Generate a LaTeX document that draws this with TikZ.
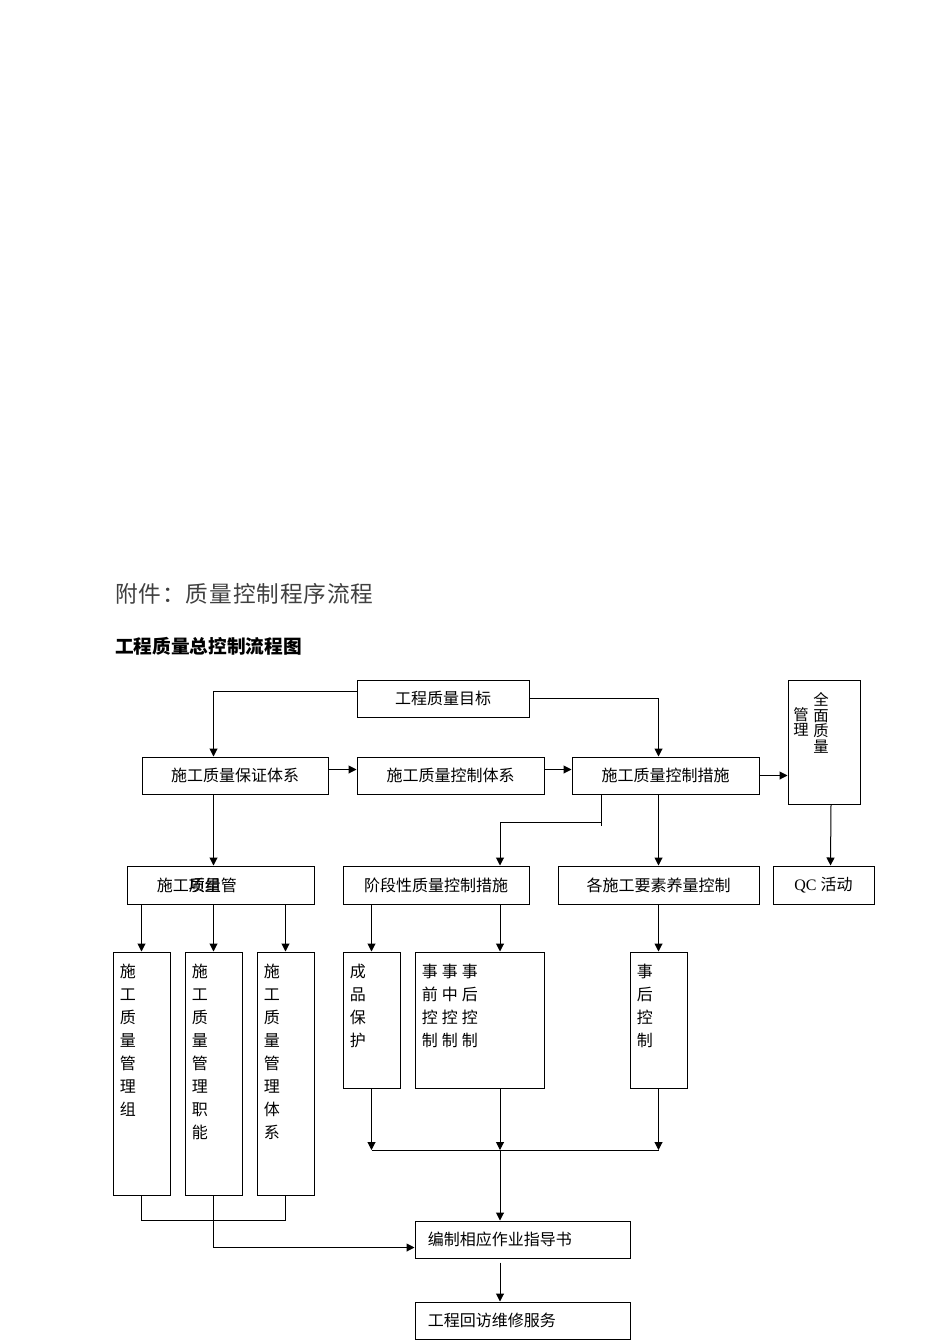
\documentclass[tikz,border=0pt]{standalone}
\usepackage{fontspec}
\setmainfont{Liberation Serif}
\newfontfamily\cjk{Noto Sans CJK SC}
\newfontfamily\cjktitle{Noto Sans CJK SC}[LetterSpace=4]
\usetikzlibrary{arrows.meta}

\begin{document}
\begin{tikzpicture}[x=0.75pt,y=-0.75pt,
  every node/.style={font=\cjk\fontsize{12}{17.25}\selectfont, inner sep=0pt},
  box/.style 2 args={draw, line width=0.75pt, minimum width=#1*0.75pt, minimum height=#2*0.75pt},
  vtxt/.style={anchor=north west, align=left},
  line/.style={line width=0.75pt},
  arr/.style={line width=0.75pt, -{Triangle[length=6pt,width=6pt]}}]
  \useasboundingbox (0,0) rectangle (950,1344);

  % Titel.
  \node[anchor=west, font=\cjktitle\fontsize{17}{17}\selectfont, text=black!75] (ttl) at (115,594) {附件：质量控制程序流程};
  \node[anchor=west, font=\cjk\bfseries\fontsize{14}{14}\selectfont] (sub) at (115,646) {工程质量总控制流程图};

  % Obere Kästen.
  \node[box={172}{37}] (goal) at (443,698.5) {工程质量目标};
  \node[box={186}{37}] (bzhtx) at (235,775.5) {施工质量保证体系};
  \node[box={187}{37}] (kztx) at (450.5,775.5) {施工质量控制体系};
  \node[box={187}{37}] (kzcs) at (665.5,775.5) {施工质量控制措施};
  \node[box={72}{124}] (qmgl) at (824,742) {};
  \node[anchor=north, align=center, font=\cjk\fontsize{11.5}{11.8}\selectfont] (qmgla) at (821,692) {全\\面\\质\\量};
  \node[anchor=north, align=center, font=\cjk\fontsize{11.5}{11.8}\selectfont] (qmglb) at (801,707) {管\\理};

  % Zweite Reihe.
  \node[box={187}{38}] (zlgl) at (220.5,885) {};
  \node[anchor=west] (zlgla) at ([xshift=22.5pt]zlgl.west) {施工质量管};
  \node[anchor=base west] (zlglb) at (zlgla.base west) {\phantom{施工}项组};
  \node[box={186}{38}] (jdx) at (436,885) {阶段性质量控制措施};
  \node[box={201}{38}] (ysk) at (658.5,885) {各施工要素养量控制};
  \node[box={101}{38}] (qc) at (823.5,885) {{\rmfamily QC }活动};

  % Senkrechte Kästen.
  \node[box={57}{243}] (zz1) at (141.5,1073.5) {};
  \node[vtxt] (zz1t) at ([shift={(7,12)}]zz1.north west) {施\\工\\质\\量\\管\\理\\组};
  \node[box={57}{243}] (zz2) at (213.5,1073.5) {};
  \node[vtxt] (zz2t) at ([shift={(7,12)}]zz2.north west) {施\\工\\质\\量\\管\\理\\职\\能};
  \node[box={57}{243}] (zz3) at (285.5,1073.5) {};
  \node[vtxt] (zz3t) at ([shift={(7,12)}]zz3.north west) {施\\工\\质\\量\\管\\理\\体\\系};
  \node[box={57}{136}] (cpbh) at (371.5,1020) {};
  \node[vtxt] (cpbht) at ([shift={(7,12)}]cpbh.north west) {成\\品\\保\\护};
  \node[box={129}{136}] (sqsz) at (479.5,1020) {};
  \node[vtxt] (sqszt) at ([shift={(7,12)}]sqsz.north west)
    {事\hspace{3pt}事\hspace{3pt}事\\前\hspace{3pt}中\hspace{3pt}后\\控\hspace{3pt}控\hspace{3pt}控\\制\hspace{3pt}制\hspace{3pt}制};
  \node[box={57}{136}] (shkz) at (658.5,1020) {};
  \node[vtxt] (shkzt) at ([shift={(7,12)}]shkz.north west) {事\\后\\控\\制};

  % Untere Kästen.
  \node[box={215}{37}] (bzzd) at (522.5,1239.5) {};
  \node[anchor=west] (bzzdt) at ([xshift=9.75pt]bzzd.west) {编制相应作业指导书};
  \node[box={215}{37}] (hfwx) at (522.5,1320.5) {};
  \node[anchor=west] (hfwxt) at ([xshift=9.75pt]hfwx.west) {工程回访维修服务};

  \coordinate (br) at (601,822);
  \coordinate (hub) at (500,1150);

  % Verbindungen oben.
  \draw[arr] ([yshift=4.9pt]goal.west) -| (bzhtx.north -| zz2.north);
  \draw[arr] (goal.east) -| (kzcs.north -| ysk.north);
  \draw[arr] ([yshift=4.5pt]bzhtx.east) -- ([yshift=4.5pt]kztx.west);
  \draw[arr] ([yshift=4.5pt]kztx.east) -- ([yshift=4.5pt]kzcs.west);
  \draw[arr] (kzcs.east) -- (qmgl.west |- kzcs.east);
  \draw[arr] (bzhtx.south -| zz2.north) -- (zlgl.north -| zz2.north);
  \draw[line] (kzcs.south -| br) -- ([yshift=-3pt]br);
  \draw[arr] (br) -| (jdx.north -| hub);
  \draw[arr] (kzcs.south -| ysk.north) -- (ysk.north);
  \draw[arr] ([xshift=5.25pt]qmgl.south) -- ([xshift=5.25pt]qc.north);

  % Zur dritten Reihe.
  \draw[arr] (zlgl.south -| zz1.north) -- (zz1.north);
  \draw[arr] (zlgl.south -| zz2.north) -- (zz2.north);
  \draw[arr] (zlgl.south -| zz3.north) -- (zz3.north);
  \draw[arr] (jdx.south -| cpbh.north) -- (cpbh.north);
  \draw[arr] (jdx.south -| hub) -- (sqsz.north -| hub);
  \draw[arr] (ysk.south -| shkz.north) -- (shkz.north);

  % Zusammenführung unten.
  \draw[arr] (cpbh.south) -- (cpbh.south |- hub);
  \draw[arr] (sqsz.south -| hub) -- (hub);
  \draw[arr] (shkz.south) -- (shkz.south |- hub);
  \draw[line] (cpbh.south |- hub) -- (shkz.south |- hub);
  \draw[arr] (hub) -- (bzzd.north -| hub);
  \draw[line] (zz1.south) -- (zz1.south |- bzzd.north) -- (zz3.south |- bzzd.north) -- (zz3.south);
  \draw[arr] (zz2.south) |- ([yshift=-6pt]bzzd.west);
  \draw[arr, shorten <=3pt] (bzzd.south -| hub) -- (hfwx.north -| hub);
\end{tikzpicture}
\end{document}
